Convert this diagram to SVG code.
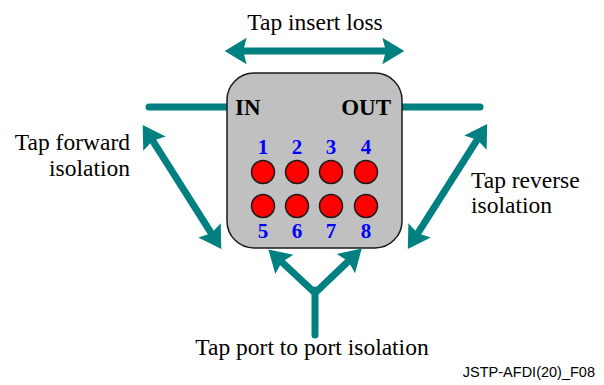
<svg xmlns="http://www.w3.org/2000/svg" width="604" height="385" viewBox="0 0 604 385">
  <style>
    .lbl { font-size: 23.5px; fill: #000; }
    .port { font-size: 21px; font-weight: bold; fill: #0000ff; text-anchor: middle; }
    .io { font-size: 23px; font-weight: bold; fill: #000; }
    .link { stroke: #008080; stroke-width: 7; fill: none; }
    .arrow { marker-start: url(#head); marker-end: url(#head); }
    .pin { fill: #ff0000; stroke: #1a1a1a; stroke-width: 1.5; }
  </style>
  <defs>
    <marker id="head" markerUnits="userSpaceOnUse" orient="auto-start-reverse" markerWidth="30" markerHeight="30" viewBox="-6 -13 24 26" refX="0" refY="0" overflow="visible">
      <path d="M15,0 L-4,-11.5 L-1,0 L-4,11.5 Z" fill="#008080"/>
    </marker>
  </defs>

  <rect width="604" height="385" fill="#ffffff"/>

  <!-- signal lines into IN and out of OUT -->
  <g id="io-lines">
    <line class="link" x1="149" y1="107" x2="230" y2="107" stroke-linecap="round"/>
    <line class="link" x1="400" y1="107" x2="480" y2="107" stroke-linecap="round"/>
  </g>

  <!-- the tap device -->
  <g id="tap" font-family="Liberation Serif, serif">
    <rect x="227" y="73" width="175" height="175" rx="27" ry="27" fill="#c0c0c0" stroke="#1a1a1a" stroke-width="1.5"/>
    <text class="io" x="235" y="115">IN</text>
    <text class="io" x="391" y="115" text-anchor="end">OUT</text>
    <g id="ports-top">
      <text class="port" x="263" y="154">1</text>
      <text class="port" x="297" y="154">2</text>
      <text class="port" x="331" y="154">3</text>
      <text class="port" x="366" y="154">4</text>
      <circle class="pin" cx="263" cy="172" r="11.5"/>
      <circle class="pin" cx="297" cy="172" r="11.5"/>
      <circle class="pin" cx="331" cy="172" r="11.5"/>
      <circle class="pin" cx="366" cy="172" r="11.5"/>
    </g>
    <g id="ports-bottom">
      <circle class="pin" cx="263" cy="206" r="11.5"/>
      <circle class="pin" cx="297" cy="206" r="11.5"/>
      <circle class="pin" cx="331" cy="206" r="11.5"/>
      <circle class="pin" cx="366" cy="206" r="11.5"/>
      <text class="port" x="263" y="238">5</text>
      <text class="port" x="297" y="238">6</text>
      <text class="port" x="331" y="238">7</text>
      <text class="port" x="366" y="238">8</text>
    </g>
  </g>

  <!-- measurement arrows -->
  <g id="connectors">
    <line class="link arrow" x1="242" y1="51" x2="387" y2="51"/>
    <line class="link arrow" x1="152" y1="139.7" x2="212" y2="234.3"/>
    <line class="link arrow" x1="477.9" y1="138.7" x2="417.1" y2="234.3"/>
    <polyline class="link arrow" points="281,261.2 315,293 349.2,260.4" stroke-linejoin="miter"/>
    <line class="link" x1="315" y1="290" x2="315" y2="335" stroke-linecap="round"/>
  </g>

  <!-- labels -->
  <g id="labels" font-family="Liberation Serif, serif">
    <text class="lbl" x="315" y="30" text-anchor="middle">Tap insert loss</text>
    <text class="lbl" x="130" y="150" text-anchor="end">Tap forward</text>
    <text class="lbl" x="130" y="176" text-anchor="end">isolation</text>
    <text class="lbl" x="471" y="188">Tap reverse</text>
    <text class="lbl" x="471" y="213">isolation</text>
    <text class="lbl" x="312" y="355" text-anchor="middle">Tap port to port isolation</text>
    <text x="595" y="377" text-anchor="end" font-family="Liberation Sans, Arial, sans-serif" font-size="14.5px" fill="#000">JSTP-AFDI(20)_F08</text>
  </g>
</svg>
